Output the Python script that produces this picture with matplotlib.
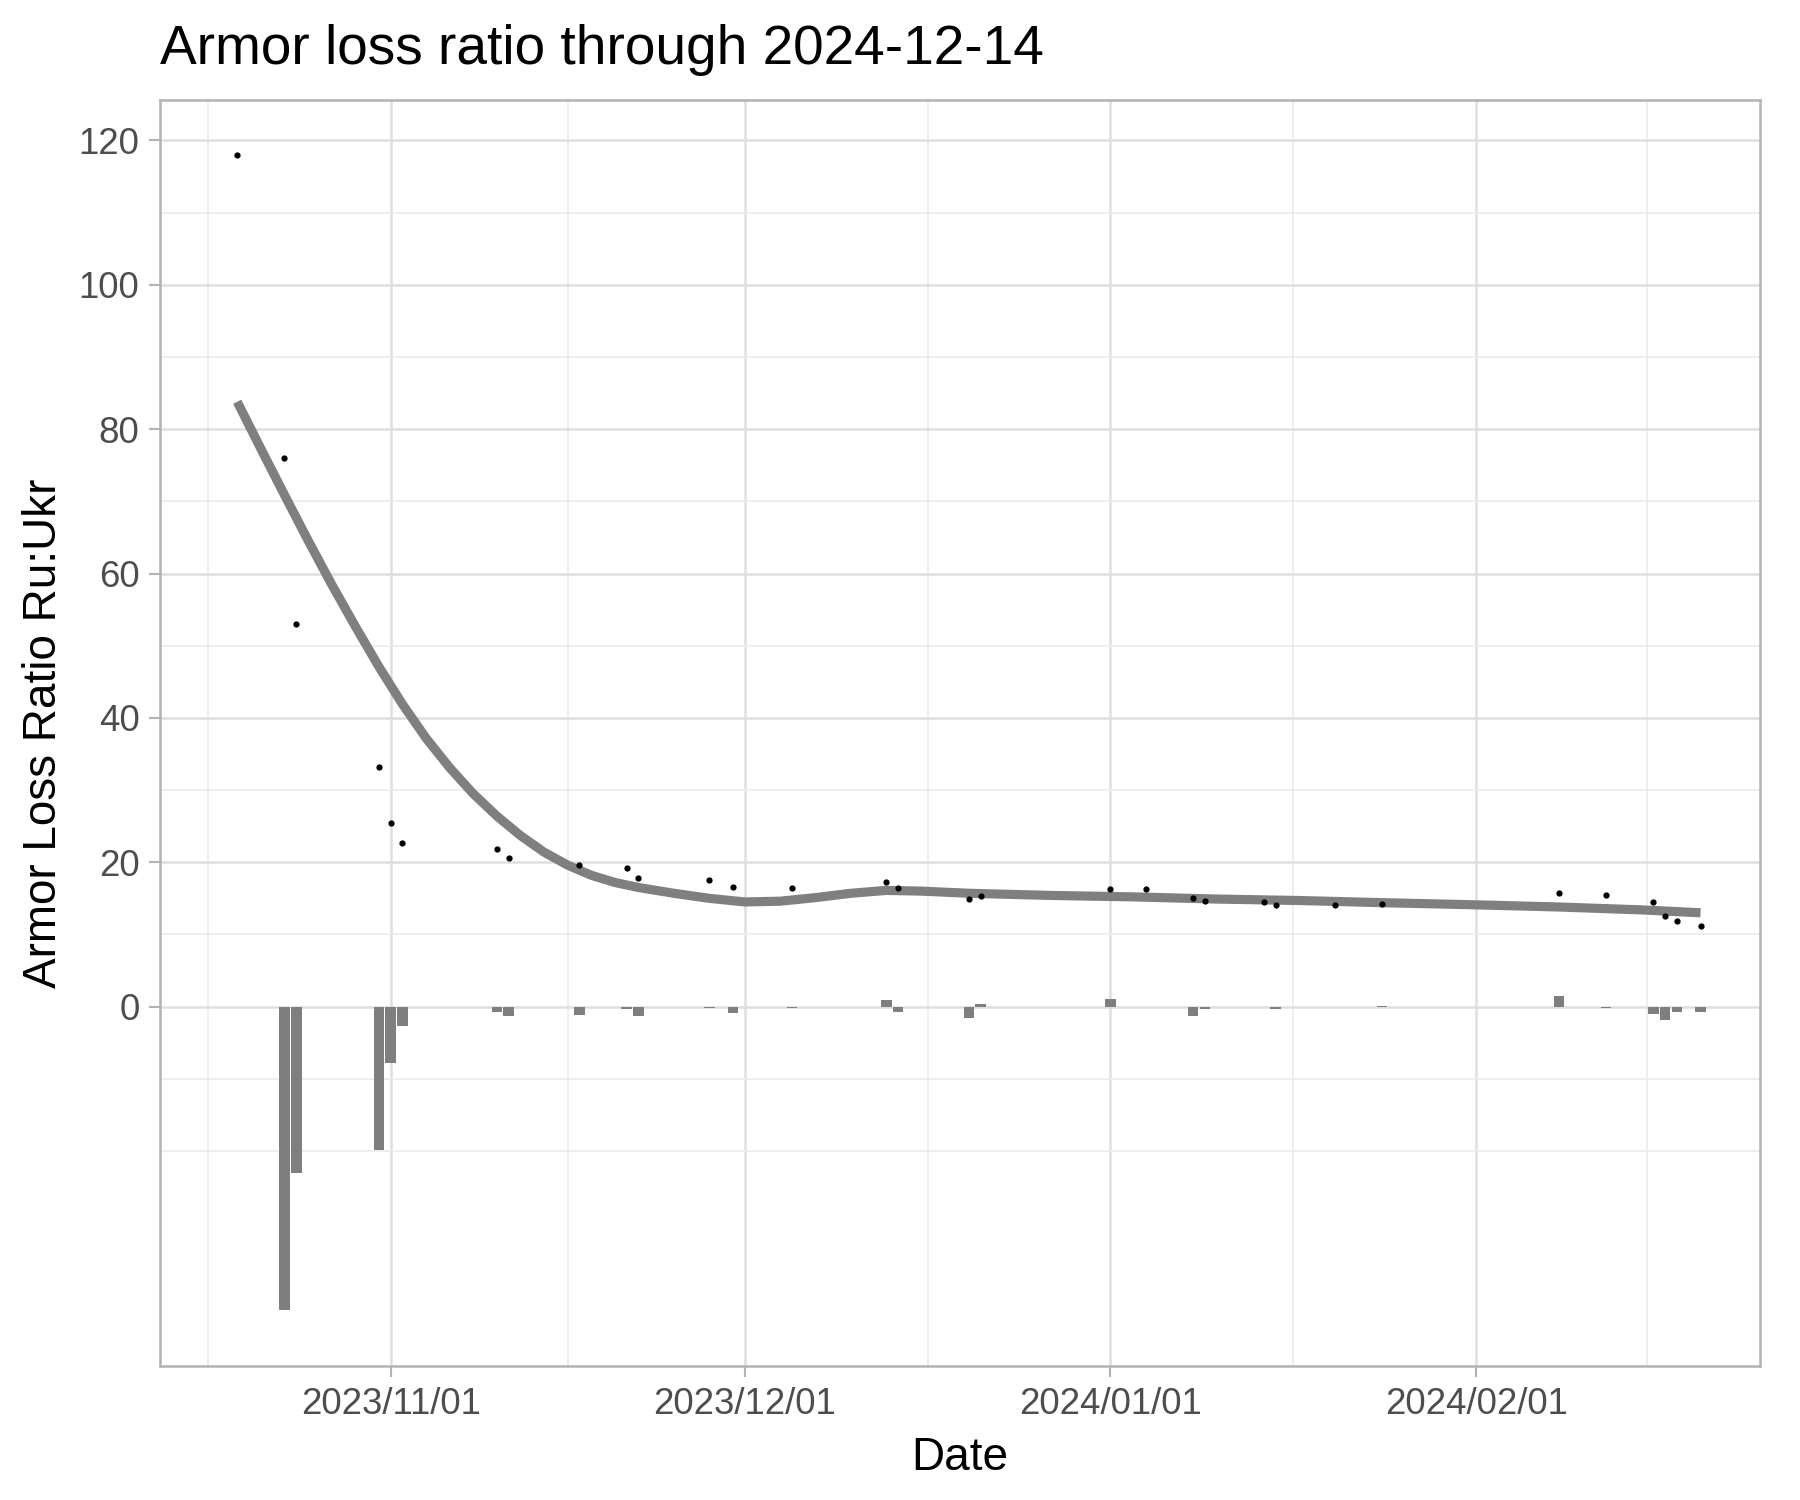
import matplotlib
matplotlib.use('Agg')
import matplotlib.pyplot as plt
import matplotlib.dates as mdates
import pandas as pd

plt.rcParams['font.family'] = ['Liberation Sans', 'DejaVu Sans']

# Puntos: razon de perdidas de blindados Ru:Ukr
fechas = ['2023-10-19', '2023-10-23', '2023-10-24', '2023-10-31', '2023-11-01',
          '2023-11-02', '2023-11-10', '2023-11-11', '2023-11-17', '2023-11-21',
          '2023-11-22', '2023-11-28', '2023-11-30', '2023-12-05', '2023-12-13',
          '2023-12-14', '2023-12-20', '2023-12-21', '2024-01-01', '2024-01-04',
          '2024-01-08', '2024-01-09', '2024-01-14', '2024-01-15', '2024-01-20',
          '2024-01-24', '2024-02-08', '2024-02-12', '2024-02-16', '2024-02-17',
          '2024-02-18', '2024-02-20']
ratio = [118.0, 76.0, 53.0, 33.2, 25.4,
         22.6, 21.9, 20.6, 19.6, 19.2,
         17.8, 17.6, 16.6, 16.4, 17.3,
         16.4, 14.9, 15.3, 16.3, 16.3,
         15.0, 14.6, 14.5, 14.1, 14.1,
         14.2, 15.7, 15.5, 14.5, 12.6,
         11.9, 11.2]

# Barras: cambio respecto al punto anterior
fechas_barra = fechas[1:]
cambio = [-42.1, -23.0, -19.8, -7.8,
          -2.7, -0.7, -1.3, -1.1, -0.4,
          -1.3, -0.2, -0.9, -0.2, 0.9,
          -0.8, -1.6, 0.4, 1.0, -0.05,
          -1.3, -0.4, -0.1, -0.35, -0.03,
          0.05, 1.5, -0.2, -1.0, -1.9,
          -0.7, -0.7]

# Curva suavizada
fechas_curva = ['2023-10-19', '2023-10-21', '2023-10-23', '2023-10-25', '2023-10-27',
                '2023-10-29', '2023-10-31', '2023-11-02', '2023-11-04', '2023-11-06',
                '2023-11-08', '2023-11-10', '2023-11-12', '2023-11-14', '2023-11-16',
                '2023-11-18', '2023-11-20', '2023-11-22', '2023-11-25', '2023-11-28',
                '2023-12-01', '2023-12-04', '2023-12-07', '2023-12-10', '2023-12-13',
                '2023-12-16', '2023-12-20', '2023-12-27', '2024-01-03', '2024-01-10',
                '2024-01-17', '2024-01-24', '2024-02-01', '2024-02-08', '2024-02-15',
                '2024-02-20']
curva = [83.8, 77.3, 70.9, 64.6, 58.5,
         52.7, 47.1, 41.9, 37.2, 33.1,
         29.5, 26.4, 23.7, 21.4, 19.6,
         18.2, 17.2, 16.5, 15.7, 15.0,
         14.5, 14.6, 15.1, 15.7, 16.1,
         16.0, 15.7, 15.4, 15.2, 14.9,
         14.7, 14.4, 14.1, 13.8, 13.4,
         13.0]

x_ticks = ['2023-11-01', '2023-12-01', '2024-01-01', '2024-02-01']
x_minor = ['2023-10-16 12:00', '2023-11-16 00:00', '2023-12-16 12:00',
           '2024-01-16 12:00', '2024-02-15 12:00']
y_ticks = [0, 20, 40, 60, 80, 100, 120]
y_minor = [-20, -10, 10, 30, 50, 70, 90, 110]

fig = plt.figure(figsize=(6, 5), dpi=300)
ax = fig.add_axes([0.0889, 0.0893, 0.8889, 0.844])

ax.bar(pd.to_datetime(fechas_barra), cambio, width=0.9, color='#7F7F7F', zorder=2)
ax.plot(pd.to_datetime(fechas_curva), curva, color='#7F7F7F', lw=2.2,
        solid_capstyle='butt', solid_joinstyle='round', zorder=3)
ax.plot(pd.to_datetime(fechas), ratio, 'o', color='black', ms=1.5, mew=0, zorder=4)

ax.set_xlim(pd.Timestamp('2023-10-12 11:00'), pd.Timestamp('2024-02-25 01:00'))
ax.set_ylim(-49.8, 125.6)

ax.set_xticks(pd.to_datetime(x_ticks))
ax.set_xticks(pd.to_datetime(x_minor, format='ISO8601'), minor=True)
ax.xaxis.set_major_formatter(mdates.DateFormatter('%Y/%m/%d'))
ax.set_yticks(y_ticks)
ax.set_yticks(y_minor, minor=True)

ax.grid(which='major', color='#DEDEDE', lw=0.6, zorder=0)
ax.grid(which='minor', color='#EBEBEB', lw=0.4, zorder=0)
ax.set_axisbelow(True)

for s in ax.spines.values():
    s.set_color('#B3B3B3')
    s.set_linewidth(0.6)

ax.tick_params(which='major', length=2.75, width=0.5, color='#B3B3B3',
               labelsize=8.8, labelcolor='#4D4D4D', pad=2.2)
ax.tick_params(which='minor', length=0)

ax.set_xlabel('Date', fontsize=11, labelpad=3.5)
ax.set_ylabel('Armor Loss Ratio Ru:Ukr', fontsize=11, labelpad=3)
fig.text(0.0889, 0.957, 'Armor loss ratio through 2024-12-14', fontsize=13.2,
         ha='left', va='baseline')

fig.savefig('out.png', dpi=300)
